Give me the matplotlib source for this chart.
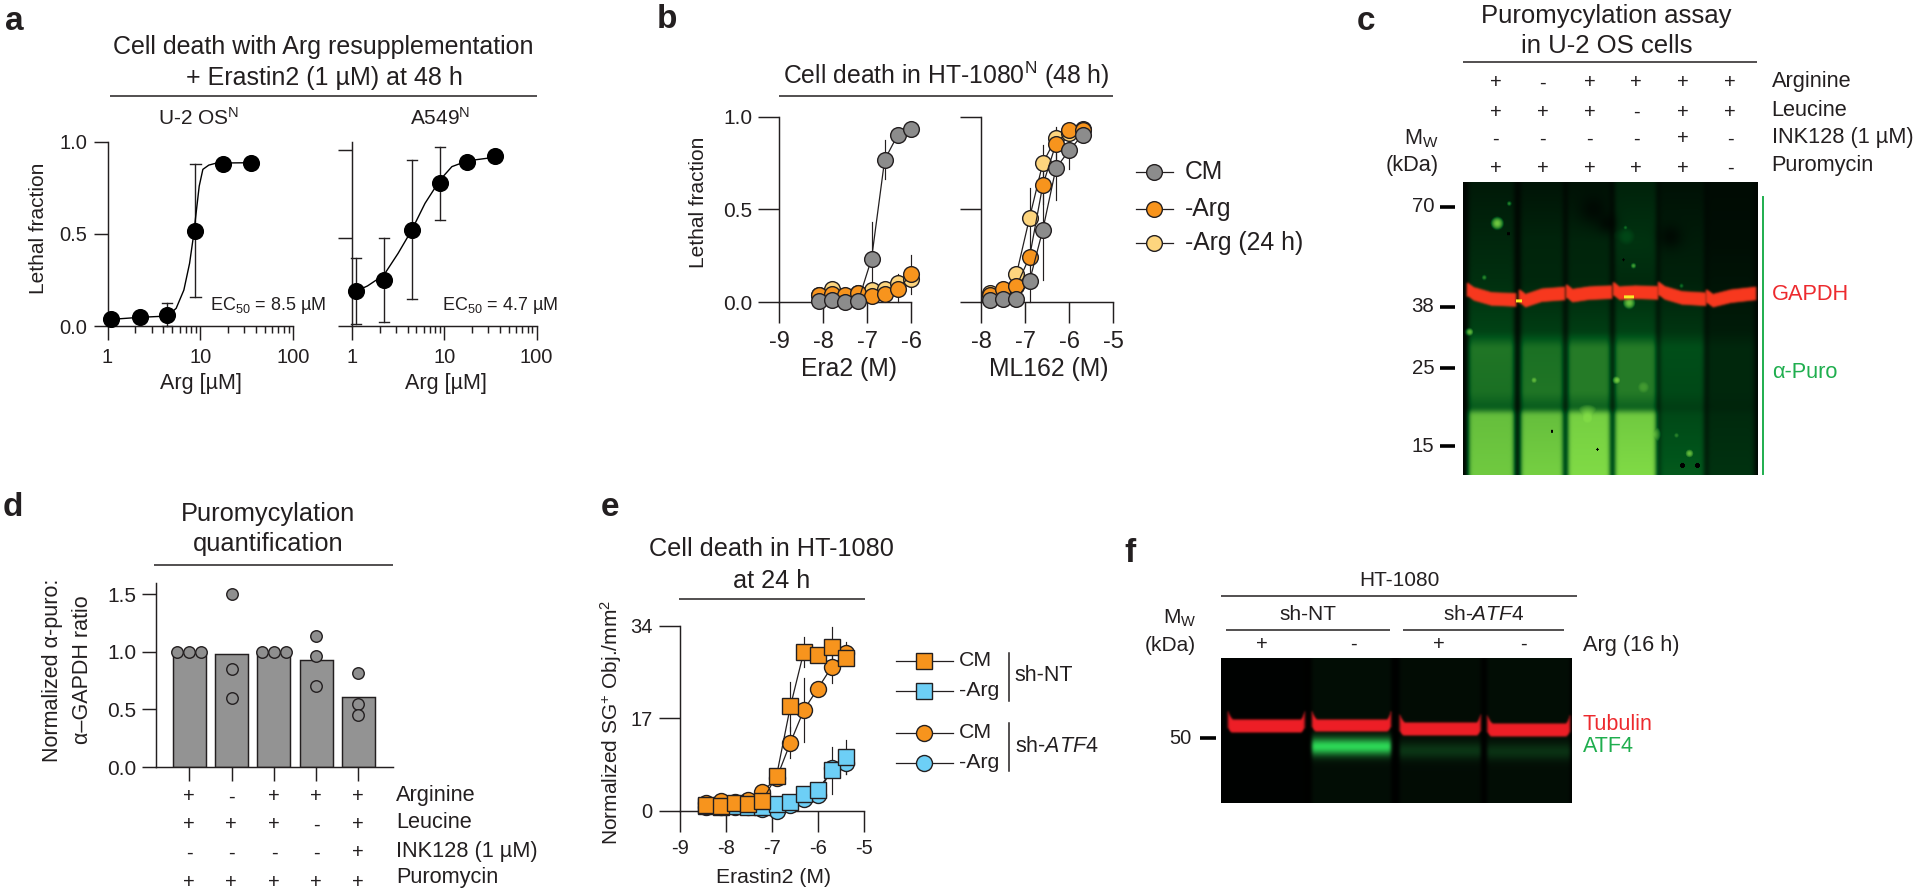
import numpy as np
import matplotlib
matplotlib.use("Agg")
import matplotlib.pyplot as plt
from matplotlib.ticker import NullFormatter

plt.rcParams["font.family"] = ["Liberation Sans", "DejaVu Sans"]
plt.rcParams["mathtext.fontset"] = "custom"
plt.rcParams["mathtext.rm"] = "Liberation Sans"
plt.rcParams["mathtext.it"] = "Liberation Sans:italic"
plt.rcParams["mathtext.bf"] = "Liberation Sans:bold"
plt.rcParams["mathtext.default"] = "regular"

W, H = 1920, 896
INK = "#231f20"
GRAY = "#8c8c8c"
ORANGE = "#f7941d"
LIGHT = "#fdd57e"
BLUE = "#6dcff6"
RED_TEXT = "#ed2a2e"
GREEN_TEXT = "#1fae4e"
PX = 0.72  # points per pixel at dpi 100

# Panel a
arg_doses = [1.10, 2.23, 4.43, 8.9, 17.8, 35.5]
u2os_y = [0.036, 0.05, 0.06, 0.514, 0.88, 0.882]
u2os_err_hi = [None, None, 0.127, 0.877, None, None]
u2os_err_lo = [None, None, 0.0, 0.155, None, None]
u2os_fit_x = [1.10, 2.23, 4.43, 5.51, 6.67, 7.69, 8.47, 9.14, 9.77, 10.7, 12.4, 15.0, 35.4]
u2os_fit_y = [0.036, 0.047, 0.054, 0.096, 0.195, 0.340, 0.488, 0.633, 0.759, 0.850, 0.873, 0.884, 0.886]
a549_y = [0.198, 0.264, 0.549, 0.812, 0.933, 0.966]
a549_err_hi = [0.388, 0.502, 0.945, 1.017, None, None]
a549_err_lo = [0.011, 0.025, 0.156, 0.605, None, None]
a549_fit_x = [1.10, 1.47, 2.22, 3.16, 4.47, 6.19, 9.0, 12.1, 17.9, 36.1]
a549_fit_y = [0.198, 0.228, 0.291, 0.414, 0.549, 0.699, 0.832, 0.908, 0.941, 0.962]

# Panel b
era2_x = [-8.10, -7.80, -7.50, -7.20, -6.90, -6.60, -6.30, -5.99]
era2_cm = [0.007, 0.009, 0.0, 0.007, 0.233, 0.769, 0.904, 0.937]
era2_arg = [0.04, 0.045, 0.036, 0.049, 0.034, 0.042, 0.069, 0.15]
era2_arg24 = [0.04, 0.069, 0.031, 0.049, 0.067, 0.072, 0.103, 0.127]
era2_cm_err = [0, 0, 0, 0, 0.2, 0.105, 0, 0]
era2_arg_err = [0, 0, 0, 0, 0, 0, 0.08, 0.105]
ml162_x = [-7.81, -7.51, -7.20, -6.90, -6.60, -6.30, -6.00, -5.69]
ml162_cm = [0.013, 0.016, 0.016, 0.114, 0.389, 0.723, 0.819, 0.904]
ml162_arg = [0.036, 0.072, 0.085, 0.244, 0.631, 0.855, 0.931, 0.928]
ml162_arg24 = [0.049, 0.045, 0.15, 0.456, 0.75, 0.886, 0.913, 0.935]
ml162_cm_err = [0, 0, 0, 0.12, 0.27, 0.17, 0.1, 0.03]
ml162_arg_err = [0, 0, 0, 0.05, 0.1, 0.09, 0.03, 0]
ml162_arg24_err = [0, 0, 0, 0.16, 0.1, 0.05, 0, 0]

# Panels c, d row tables
c_rows = ["Arginine", "Leucine", "INK128 (1 \u00b5M)", "Puromycin"]
c_signs = [["+", "-", "+", "+", "+", "+"],
           ["+", "+", "+", "-", "+", "+"],
           ["-", "-", "-", "-", "+", "-"],
           ["+", "+", "+", "+", "+", "-"]]
c_mw = ["70", "38", "25", "15"]
d_signs = [["+", "-", "+", "+", "+"],
           ["+", "+", "+", "-", "+"],
           ["-", "-", "-", "-", "+"],
           ["+", "+", "+", "+", "+"]]

# Panel d
d_bars = [1.0, 0.985, 1.0, 0.933, 0.604]
d_points = [[1.0, 1.0, 1.0], [1.5, 0.85, 0.6], [1.0, 1.0, 1.0], [1.14, 0.965, 0.70], [0.82, 0.55, 0.45]]
d_dodge = [[-0.28, 0, 0.28], [0, 0, 0], [-0.28, 0, 0.28], [0, 0, 0], [0, 0, 0]]

# Panel e
e_x = [-8.42, -8.11, -7.80, -7.51, -7.21, -6.90, -6.60, -6.31, -6.01, -5.70, -5.40]
nt_cm = [1.04, 0.86, 1.47, 1.29, 1.78, 6.43, 19.2, 29.2, 28.6, 30.0, 28.0]
nt_arg = [0.86, 0.74, 0.86, 0.74, 0.74, 1.23, 1.59, 3.0, 3.8, 7.41, 9.92]
atf4_cm = [1.35, 1.78, 1.65, 1.96, 3.49, 5.94, 12.5, 18.5, 22.4, 26.5, 29.0]
atf4_arg = [0.6, 0.74, 0.74, 0.6, 0.25, 0.0, 1.04, 2.08, 2.88, 7.78, 8.7]
nt_cm_err = [0, 0, 0, 0, 0, 0, 4.5, 2.8, 0, 3.7, 0]
nt_arg_err = [0, 0, 0, 0, 0, 0, 0, 0, 0, 4.3, 3.1]
atf4_cm_err = [0, 0, 0, 0, 0, 0, 2.9, 5.8, 0, 3.0, 2.0]
atf4_arg_err = [0, 0, 0, 0, 0, 0, 0, 0, 0, 0, 2.0]

# Blot c, lane edges and green level per depth (pixels inside the blot)
c_lanes = [(5, 51), (57, 100), (104, 147), (151, 193), (196, 241), (244, 291)]
c_depth = [0, 60, 100, 150, 165, 210, 226, 232, 293]
c_green = [[.07, .12, .15, .22, .40, .38, .30, .66, .70],
           [.05, .11, .12, .20, .38, .40, .30, .66, .72],
           [.04, .11, .12, .20, .42, .42, .32, .72, .76],
           [.10, .16, .13, .22, .42, .42, .32, .70, .76],
           [.04, .08, .10, .17, .26, .24, .20, .24, .30],
           [.02, .03, .05, .08, .12, .12, .11, .13, .16]]
c_band = [(110, 117, 118), (116.7, 113.3, 111.7), (111.7, 111.3, 110.3),
          (109.3, 110.3, 111), (109, 116, 117.3), (116.7, 114.3, 111.7)]
c_spots = [(33.8, 41.7, 5.5, .72), (45.7, 22, 2, .6), (20.8, 95.7, 2.5, .55), (6.3, 150, 3.5, .7),
           (170, 84, 2.5, .65), (165.7, 121, 5.5, .7), (70.6, 198, 3.5, .7), (153.5, 198, 4, .75),
           (226, 271, 4, .7), (213, 253, 3, .5), (218, 104, 2, .5), (162, 46, 2, .5),
           (163, 55, 11, .25), (180, 205, 9, .55), (187, 252, 9, .72), (124, 236, 13, .78)]
c_shades = [(130, 28, 15), (144, 42, 10), (207, 55, 12)]
c_specks = [(88.5, 249, 1.4), (219, 283, 2.6), (234, 283, 2.8), (134, 267, 1.3), (160, 78, 1.3), (45, 52, 1.5)]
c_hot = [(55.7, 119, 3), (165.7, 115, 5)]

# Blot f
f_lanes = [(7, 82.7), (91, 169), (178.7, 258.7), (266.3, 348)]
f_band = [(60, 75), (60, 74), (63, 78), (64, 79)]
f_atf4 = [0.0, 0.85, 0.17, 0.15]
f_haze = [0.005, 0.05, 0.045, 0.05]


def px_axes(fig, left, right, top, bottom):
    # Make an axes from a rectangle given in figure pixels
    return fig.add_axes([left / W, 1 - bottom / H, (right - left) / W, (bottom - top) / H])


def style_axes(ax, tick_px=14, size_x=14.5, size_y=14.5, pad_x=5.5, pad_y=4.5):
    for side in ["top", "right"]:
        ax.spines[side].set_visible(False)
    for side in ["left", "bottom"]:
        ax.spines[side].set_linewidth(1.05)
        ax.spines[side].set_color(INK)
    ax.patch.set_alpha(0)
    ax.tick_params(axis="x", which="major", length=tick_px * PX, width=1.05, color=INK,
                   labelsize=size_x, pad=pad_x, labelcolor=INK)
    ax.tick_params(axis="y", which="major", length=tick_px * PX, width=1.05, color=INK,
                   labelsize=size_y, pad=pad_y, labelcolor=INK)


def draw_errors(ax, x, y, err, color=INK):
    # Thin error lines without caps
    for xi, yi, e in zip(x, y, err):
        if e:
            ax.plot([xi, xi], [max(yi - e, -0.0), yi + e], color=color, lw=0.85, zorder=2, clip_on=False)


def draw_series(ax, x, y, fill, marker="o", z=3, size=11.3):
    ax.plot(x, y, "-", color=INK, lw=0.9, zorder=z, clip_on=False)
    ax.plot(x, y, marker, mfc=fill, mec=INK, mew=1.0, ms=size, ls="none", zorder=z + 0.1, clip_on=False)


def plot_arg_panel(ax, y, hi, lo, fit_x, fit_y, ymax, label_ticks):
    ax.set_xscale("log")
    ax.set_xlim(1, 100)
    ax.set_ylim(0, ymax)
    style_axes(ax)
    ax.tick_params(axis="x", which="minor", length=7 * PX, width=1.05, color=INK)
    ax.xaxis.set_minor_formatter(NullFormatter())
    ax.set_xticks([1, 10, 100], ["1", "10", "100"])
    ax.set_yticks([0, 0.5, 1.0], ["0.0", "0.5", "1.0"] if label_ticks else ["", "", ""])
    ax.plot(fit_x, fit_y, "-", color="black", lw=1.0, zorder=3, clip_on=False)
    for xi, h, l in zip(arg_doses, hi, lo):
        if h is None:
            continue
        ax.plot([xi, xi], [l, h], color=INK, lw=1.0, zorder=2, clip_on=False)
        for v in (l, h):
            ax.plot([xi / 1.135, xi * 1.135], [v, v], color=INK, lw=1.0, zorder=2, clip_on=False)
    ax.plot(arg_doses, y, "o", color="black", ms=11.3, zorder=4, clip_on=False)


def blur(img, sigma):
    # Gaussian blur along both image axes
    r = int(3 * sigma) + 1
    k = np.exp(-0.5 * (np.arange(-r, r + 1) / sigma) ** 2)
    k /= k.sum()
    pad = np.pad(img, r, mode="edge")
    pad = np.apply_along_axis(lambda a: np.convolve(a, k, mode="same"), 0, pad)
    pad = np.apply_along_axis(lambda a: np.convolve(a, k, mode="same"), 1, pad)
    return pad[r:-r, r:-r]


def green_blot_rgb(level, r_gain, g_gain, b_gain, r_floor):
    rgb = np.zeros(level.shape + (3,))
    rgb[..., 0] = np.clip(level - r_floor, 0, 1) * r_gain
    rgb[..., 1] = level * g_gain
    rgb[..., 2] = level * b_gain
    return rgb


def draw_blot_c(ax):
    # Compose the puromycin blot from lane profiles, the GAPDH band and spots
    h, w = 293, 295
    yy, xx = np.mgrid[0:h, 0:w]
    level = np.full((h, w), 0.02)
    red = np.zeros((h, w))
    for (left, right), greens, band in zip(c_lanes, c_green, c_band):
        mask = np.clip((xx - left + 2) / 4, 0, 1) * np.clip((right + 2 - xx) / 4, 0, 1)
        profile = np.interp(np.arange(h), c_depth, greens)
        level += mask * profile[yy]
        u = (xx - left) / (right - left)
        center = np.interp(u, [0, 0.12, 0.5, 1], [band[0] - 2, band[0] + 2, band[1], band[2]])
        edge = np.clip((7.5 - np.abs(yy - center)) / 1.5, 0, 1)
        side = np.clip((xx - left + 3) / 2.5, 0, 1) * np.clip((right + 3 - xx) / 2.5, 0, 1)
        red = np.maximum(red, edge * side)
    level = blur(level, 2.0)
    for sx, sy, r in c_shades:
        level *= 1 - 0.6 * np.exp(-(np.hypot(xx - sx, yy - sy) / r) ** 2)
    for sx, sy, r, amp in c_spots:
        d = np.hypot(xx - sx, yy - sy) / r
        bump = amp * np.clip(1.3 - d, 0, 1) ** 0.5 * (d < 1.3)
        level = np.maximum(level, blur(bump, 1.0))
    for sx, sy, r in c_specks:
        level[np.hypot(xx - sx, yy - sy) < r] = 0
    rgb = green_blot_rgb(level, 1.05, 1.1, 0.35, 0.3)
    red = blur(red, 0.9)[..., None]
    band_col = np.array([0.97, 0.22, 0.12])
    rgb = rgb * (1 - red) + band_col * red
    for sx, sy, r in c_hot:
        hot = (np.abs(xx - sx) < r) & (np.abs(yy - sy) < 1.6)
        rgb[hot] = [0.98, 0.92, 0.15]
    ax.imshow(np.clip(rgb, 0, 1), aspect="auto", interpolation="bilinear")
    ax.axis("off")


def draw_blot_f(ax):
    # Compose the ATF4 blot from lane bands
    h, w = 145, 351
    yy, xx = np.mgrid[0:h, 0:w]
    level = np.full((h, w), 0.006)
    red = np.zeros((h, w))
    for (left, right), (top, bot), atf, haze in zip(f_lanes, f_band, f_atf4, f_haze):
        u = (xx - left) / (right - left)
        inside = np.clip((xx - left + 2) / 3, 0, 1) * np.clip((right + 2 - xx) / 3, 0, 1)
        level += inside * haze
        hook = 8 * np.clip(1 - u / 0.07, 0, 1) ** 2 + 8 * np.clip(1 - (1 - u) / 0.05, 0, 1) ** 2
        sag = 4 * np.clip(1 - u / 0.05, 0, 1) ** 2 + 4 * np.clip(1 - (1 - u) / 0.05, 0, 1) ** 2
        edge = np.clip((yy - (top - hook)) / 2, 0, 1) * np.clip((bot - sag - yy) / 2, 0, 1)
        red = np.maximum(red, edge * inside)
        glow = np.exp(-((yy - bot - 14) / 8.5) ** 2) * (yy > bot - 2)
        level += inside * atf * glow
    level = blur(level, 1.5)
    rgb = green_blot_rgb(level, 0.2, 0.95, 0.38, 0.0)
    red = blur(red, 1.0)[..., None]
    band_col = np.array([0.93, 0.12, 0.15])
    rgb = rgb * (1 - red) + band_col * red
    ax.imshow(np.clip(rgb, 0, 1), aspect="auto", interpolation="bilinear")
    ax.axis("off")


def main():
    fig = plt.figure(figsize=(W / 100, H / 100), dpi=100, facecolor="white")
    page = fig.add_axes([0, 0, 1, 1], zorder=10)
    page.set_xlim(0, W)
    page.set_ylim(H, 0)
    page.axis("off")

    def text(x, y, s, size=15.5, ha="center", color=INK, **kw):
        page.text(x, y, s, fontsize=size, ha=ha, va="center", color=color, **kw)

    def rule(x0, x1, y, lw=1.1):
        page.plot([x0, x1], [y, y], color=INK, lw=lw, solid_capstyle="butt")

    for s, x, y in [("a", 14, 22), ("b", 667, 20), ("c", 1366, 22), ("d", 13, 507), ("e", 610, 507), ("f", 1130, 553)]:
        text(x, y, s, size=24, fontweight="bold")

    # Panel a
    text(323, 47, "Cell death with Arg resupplementation", size=18)
    text(324, 78, "+ Erastin2 (1 \u00b5M) at 48 h", size=18)
    rule(110, 536.5, 96)
    text(199, 118, "U-2 OS$^{N}$", size=15)
    text(440, 118, "A549$^{N}$", size=15)
    a1 = px_axes(fig, 107.5, 292.8, 141.7, 326)
    plot_arg_panel(a1, u2os_y, u2os_err_hi, u2os_err_lo, u2os_fit_x, u2os_fit_y, 1.0, True)
    a2 = px_axes(fig, 352, 536.5, 141.7, 326)
    plot_arg_panel(a2, a549_y, a549_err_hi, a549_err_lo, a549_fit_x, a549_fit_y, 1.05, False)
    text(38, 228, "Lethal fraction", rotation=90, size=15)
    text(201, 383, "Arg [\u00b5M]")
    text(446, 383, "Arg [\u00b5M]")
    text(268, 306, "EC$_{50}$ = 8.5 \u00b5M", size=13)
    text(500, 306, "EC$_{50}$ = 4.7 \u00b5M", size=13)

    # Panel b
    text(946, 75, "Cell death in HT-1080$^{N}$ (48 h)", size=17.8)
    rule(779.4, 1113, 96)
    b1 = px_axes(fig, 779.4, 911, 117, 302)
    b1.set_xlim(-9, -6)
    b1.set_ylim(0, 1)
    style_axes(b1, tick_px=21, size_x=17, size_y=15)
    b1.set_xticks([-9, -8, -7, -6], ["-9", "-8", "-7", "-6"])
    b1.set_yticks([0, 0.5, 1.0], ["0.0", "0.5", "1.0"])
    draw_errors(b1, era2_x, era2_arg, era2_arg_err)
    draw_errors(b1, era2_x, era2_cm, era2_cm_err)
    draw_series(b1, era2_x, era2_arg24, LIGHT, z=3)
    draw_series(b1, era2_x, era2_arg, ORANGE, z=4)
    draw_series(b1, era2_x, era2_cm, GRAY, z=5)
    b2 = px_axes(fig, 981.3, 1113, 117, 302)
    b2.set_xlim(-8, -5)
    b2.set_ylim(0, 1)
    style_axes(b2, tick_px=21, size_x=17, size_y=15)
    b2.set_xticks([-8, -7, -6, -5], ["-8", "-7", "-6", "-5"])
    b2.set_yticks([0, 0.5, 1.0], ["", "", ""])
    draw_errors(b2, ml162_x, ml162_arg24, ml162_arg24_err)
    draw_errors(b2, ml162_x, ml162_arg, ml162_arg_err)
    draw_errors(b2, ml162_x, ml162_cm, ml162_cm_err)
    draw_series(b2, ml162_x, ml162_arg24, LIGHT, z=3)
    draw_series(b2, ml162_x, ml162_arg, ORANGE, z=4)
    draw_series(b2, ml162_x, ml162_cm, GRAY, z=5)
    text(698, 202, "Lethal fraction", rotation=90, size=15)
    text(849, 369, "Era2 (M)", size=17.8)
    text(1049, 369, "ML162 (M)", size=17.8)
    for label, col, y in [("CM", GRAY, 172), ("-Arg", ORANGE, 209), ("-Arg (24 h)", LIGHT, 243)]:
        page.plot([1136, 1173], [y, y], color=INK, lw=0.9)
        page.plot([1154], [y], "o", mfc=col, mec=INK, mew=1.0, ms=11.3)
        text(1184.7, y, label, size=17.8, ha="left")

    # Panel c
    text(1606.4, 16, "Puromycylation assay", size=18.5)
    text(1606.4, 46, "in U-2 OS cells", size=18.5)
    rule(1462.8, 1757, 62)
    c_col_x = [1495.8, 1542.4, 1589.4, 1636.3, 1683.3, 1730]
    for signs, y in zip(c_signs, [83, 112, 139, 168]):
        for s, x in zip(signs, c_col_x):
            text(x, y, s, size=14.5)
    for s, y in zip(c_rows, [82, 110, 137, 165]):
        text(1771.7, y, s, size=15.7, ha="left")
    text(1439, 139, "M$_{W}$", size=15.7, ha="right")
    text(1439, 166, "(kDa)", size=15.7, ha="right")
    draw_blot_c(px_axes(fig, 1462.7, 1757.7, 182, 475))
    for s, y in zip(c_mw, [207, 307, 368, 446]):
        text(1434.3, y, s, size=14.7, ha="right")
        page.plot([1440, 1454.7], [y, y], color="black", lw=2.6, solid_capstyle="butt")
    page.plot([1762.7, 1762.7], [197, 474], color=GREEN_TEXT, lw=1.4)
    text(1771.7, 295, "GAPDH", size=15.7, ha="left", color=RED_TEXT)
    text(1771.7, 372, "\u03b1-Puro", size=15.7, ha="left", color=GREEN_TEXT)

    # Panel d
    text(268, 514, "Puromycylation", size=18.3)
    text(268, 544, "quantification", size=18.3)
    rule(154, 393, 565)
    d_ax = px_axes(fig, 155.7, 393, 582.7, 767)
    d_ax.set_xlim(-0.795, 4.82)
    d_ax.set_ylim(0, 1.6)
    style_axes(d_ax, size_y=15, pad_y=4)
    bar_x = np.arange(len(d_bars))
    d_ax.bar(bar_x, d_bars, width=0.78, color="#939393", edgecolor=INK, linewidth=1.05, zorder=2)
    for xi, vals, off in zip(bar_x, d_points, d_dodge):
        d_ax.plot([xi + o for o in off], vals, "o", mfc="#8f8f8f", mec=INK, mew=1.0, ms=8.3,
                  ls="none", zorder=3, clip_on=False)
    d_ax.set_xticks(bar_x, [""] * len(d_bars))
    d_ax.set_yticks([0, 0.5, 1.0, 1.5], ["0.0", "0.5", "1.0", "1.5"])
    text(53, 670, "Normalized \u03b1-puro:", rotation=90, size=15.5)
    text(82, 670, "\u03b1\u2013GAPDH ratio", rotation=90, size=15.5)
    d_col_x = [189.3, 231.3, 274, 316, 358.3]
    for signs, y in zip(d_signs, [797, 825, 853, 882]):
        for s, x in zip(signs, d_col_x):
            text(x, y, s, size=14.5)
    for s, y in zip(c_rows, [795, 823, 851, 878]):
        text(396, y, s, size=15.7, ha="left")

    # Panel e
    text(771.4, 549, "Cell death in HT-1080", size=18.2)
    text(771.4, 581, "at 24 h", size=18.2)
    rule(679, 864.6, 599)
    e_ax = px_axes(fig, 679.6, 864.3, 625.7, 810.7)
    e_ax.set_xlim(-9, -5)
    e_ax.set_ylim(0, 34)
    style_axes(e_ax, tick_px=21, size_x=14.5, size_y=14.5)
    e_ax.set_xticks([-9, -8, -7, -6, -5], ["-9", "-8", "-7", "-6", "-5"])
    e_ax.set_yticks([0, 17, 34], ["0", "17", "34"])
    draw_errors(e_ax, e_x, atf4_arg, atf4_arg_err)
    draw_errors(e_ax, e_x, nt_arg, nt_arg_err)
    draw_errors(e_ax, e_x, atf4_cm, atf4_cm_err)
    draw_errors(e_ax, e_x, nt_cm, nt_cm_err)
    draw_series(e_ax, e_x, atf4_arg, BLUE, z=3, size=11.5)
    draw_series(e_ax, e_x, atf4_cm, ORANGE, z=4, size=11.5)
    draw_series(e_ax, e_x, nt_arg, BLUE, marker="s", z=5, size=11.5)
    draw_series(e_ax, e_x, nt_cm, ORANGE, marker="s", z=6, size=11.5)
    text(611, 722, "Normalized SG$^{+}$ Obj./mm$^{2}$", rotation=90, size=15)
    text(773.6, 877.7, "Erastin2 (M)", size=15.2)
    legend_e = [("CM", ORANGE, "s", 661), ("-Arg", BLUE, "s", 691), ("CM", ORANGE, "o", 732.7), ("-Arg", BLUE, "o", 763)]
    for label, col, mk, y in legend_e:
        page.plot([896.4, 952.9], [y, y], color=INK, lw=0.9)
        page.plot([924.3], [y], mk, mfc=col, mec=INK, mew=1.0, ms=11.5)
        text(959.3, y, label, size=15.3, ha="left")
    page.plot([1009, 1009], [652.7, 700.7], color=INK, lw=1.1)
    page.plot([1009, 1009], [722.7, 770.7], color=INK, lw=1.1)
    text(1014.6, 675.7, "sh-NT", size=15.5, ha="left")
    text(1014.6, 746.7, "sh-$\\mathit{ATF4}$", size=15.5, ha="left")

    # Panel f
    text(1399.3, 580.7, "HT-1080", size=15)
    rule(1221, 1576.7, 596)
    text(1308, 614, "sh-NT", size=15)
    text(1483.3, 614, "sh-$\\mathit{ATF4}$", size=15)
    rule(1226, 1390, 630)
    rule(1402.7, 1564, 630)
    for s, x in zip(["+", "-", "+", "-"], [1262, 1353.3, 1438.7, 1523.3]):
        text(x, 644, s, size=14.5)
    text(1582.7, 645, "Arg (16 h)", size=15.7, ha="left")
    text(1196, 618, "M$_{W}$", size=15, ha="right")
    text(1196, 645.7, "(kDa)", size=15, ha="right")
    draw_blot_f(px_axes(fig, 1221.3, 1572.3, 658, 802.7))
    text(1191.7, 738, "50", size=14.5, ha="right")
    page.plot([1200, 1216], [738, 738], color="black", lw=2.6, solid_capstyle="butt")
    text(1582.7, 724, "Tubulin", size=15.5, ha="left", color=RED_TEXT)
    text(1582.7, 747, "ATF4", size=15.5, ha="left", color=GREEN_TEXT)

    fig.savefig("out.png", dpi=100)
    plt.close(fig)


if __name__ == "__main__":
    main()
